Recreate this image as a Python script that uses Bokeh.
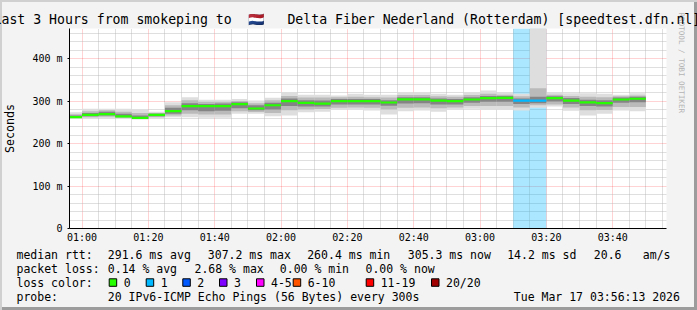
import math
from bokeh.plotting import figure
from bokeh.layouts import column
from bokeh.models import Range1d, FixedTicker, Title, ColumnDataSource
from bokeh.core.properties import value
from bokeh.embed import file_html
from bokeh.resources import INLINE

# ---------------- data ----------------
# interval starts (minutes after midnight), 5-minute steps from 00:55 to 03:45
start_min = list(range(55, 230, 5))
median_ms = [262, 267.5, 269, 264, 260.4, 267.5, 276, 287.8, 287.8, 287.8,
             292.5, 282.4, 290, 299.6, 295.7, 294, 299.6, 299.6, 299.6, 296.5,
             304, 304, 301, 299.6, 303.5, 306.6, 307.2, 301, 301, 306.6,
             301, 297, 295, 303.5, 305.3]
smoke_lo = [259.5, 259.5, 259.5, 259.5, 256.5, 260.4, 262, 262, 260.4, 260.4,
            270, 270, 264, 266, 273.6, 275, 279, 279, 277.6, 268,
            276, 277.6, 275, 279, 281.6, 279, 279, 277.6, 284, 287,
            277, 266, 270, 277.6, 276]
smoke_hi = [273.6, 282, 282, 282, 279, 275, 297, 309, 303, 303,
            305, 301, 307.5, 320.8, 315, 315, 313, 317, 315, 315,
            320.8, 320.8, 317, 315, 320.8, 324.7, 320.8, 317, 480, 320.8,
            318.4, 318.4, 317, 315, 318.4]
mid_lo = [260.5, 262, 263, 261, 258, 262, 266, 270, 268, 268,
          276, 274, 272, 278, 280, 281, 284, 285, 284, 280,
          284, 285, 283, 285, 288, 288, 288, 285, 290, 292,
          285, 278, 279, 286, 286]
mid_hi = [269, 276, 278, 275, 272, 272, 290, 302, 298, 298,
          300, 295, 302, 312, 308, 308, 309, 310, 309, 308,
          314, 314, 311, 310, 314, 317, 315, 311, 330, 315,
          312, 310, 309, 311, 313]
in_lo = [261, 264, 266, 262, 259, 264, 270, 278, 276, 277,
         283, 278, 280, 288, 287, 287, 292, 292, 292, 289,
         294, 295, 292, 292, 296, 298, 298, 293, 295, 299,
         293, 288, 287, 296, 297]
in_hi = [266, 272, 275, 270, 266, 270, 284, 295, 293, 294,
         297, 290, 296, 306, 302, 301, 305, 305, 305, 302,
         309, 309, 306, 305, 309, 312, 312, 306, 310, 311,
         307, 303, 302, 308, 310]
loss_count = [0] * 27 + [1, 1] + [0] * 6

loss_labels = ["0", "1", "2", "3", "4-5", "6-10", "11-19", "20/20"]
loss_colors = ["#26ff00", "#00b8ff", "#0059ff", "#7e00ff", "#ff00ff",
               "#ff5500", "#ff0000", "#a00000"]

x_ticks = [60, 80, 100, 120, 140, 160, 180, 200, 220]
x_tick_labels = ["01:00", "01:20", "01:40", "02:00", "02:20", "02:40",
                 "03:00", "03:20", "03:40"]
y_ticks = [0, 100, 200, 300, 400]
y_tick_labels = ["0", "100 m", "200 m", "300 m", "400 m"]

title_text = ("Last 3 Hours from smokeping to \u00a0\U0001F1F3\U0001F1F1\u00a0\u00a0 "
              "Delta Fiber Nederland (Rotterdam) [speedtest.dfn.nl]")
rtt_head = "median rtt:"
stats_rtt = ["291.6 ms avg", "307.2 ms max", "260.4 ms min", "305.3 ms now",
             "14.2 ms sd", "20.6", "am/s"]
loss_head = "packet loss:"
stats_loss = ["0.14 % avg", "2.68 % max", "0.00 % min", "0.00 % now"]
color_head = "loss color:"
probe_head = "probe:"
probe_text = "20 IPv6-ICMP Echo Pings (56 Bytes) every 300s"
stamp_text = "Tue Mar 17 03:56:13 2026"

# ---------------- layout constants ----------------
W = 697
L, R, T, B = 67, 30, 28, 18
FRAME_H = 200
MAIN_H = T + FRAME_H + B          # 246
LEG_H = 310 - MAIN_H              # 64
t_end = 236.2167
t_start = t_end - 180
y_max = 200 / 0.425
MONO = "DejaVu Sans Mono"
BG = "#f3f3f3"

# ---------------- main chart ----------------
p = figure(width=W, height=MAIN_H, output_backend="svg", toolbar_location=None,
           x_range=Range1d(t_start, t_end), y_range=Range1d(0, y_max),
           min_border_left=L, min_border_right=R, min_border_top=T,
           min_border_bottom=B)
p.frame_align = False
p.background_fill_color = "#ffffff"
p.border_fill_color = BG
p.border_fill_alpha = 0.0
p.outline_line_color = None

p.title.text = title_text
p.title.text_font = MONO
p.title.text_font_size = "13.2px"
p.title.text_font_style = "normal"
p.title.align = "left"
p.title.offset = -76
p.title.standoff = 4
p.title.text_color = "#000000"

end_min = [s + 5 for s in start_min]
src = ColumnDataSource(dict(
    left=start_min, right=end_min, med=median_ms,
    slo=smoke_lo, shi=smoke_hi, mlo=mid_lo, mhi=mid_hi, ilo=in_lo, ihi=in_hi,
    color=[loss_colors[c] for c in loss_count],
))

# loss background bands
lb_left = [s for s, c in zip(start_min, loss_count) if c > 0]
lb_color = [loss_colors[c] for c in loss_count if c > 0]
p.quad(left=lb_left, right=[v + 5 for v in lb_left], bottom=0, top=y_max,
       fill_color=lb_color, fill_alpha=0.33, line_color=None)

# smoke
p.quad(left="left", right="right", bottom="slo", top="shi", source=src,
       fill_color="#dedede", line_color=None)
p.quad(left="left", right="right", bottom="mlo", top="mhi", source=src,
       fill_color="#bababa", line_color=None)
p.quad(left="left", right="right", bottom="ilo", top="ihi", source=src,
       fill_color="#848484", line_color=None)

# median
p.segment(x0="left", x1="right", y0="med", y1="med", source=src,
          line_color="color", line_width=2.2)

# axes / grid
xa = p.xaxis[0]
xa.ticker = FixedTicker(ticks=x_ticks,
                        minor_ticks=[m for m in range(60, 240, 5) if m not in x_ticks])
xa.major_label_overrides = {t: l for t, l in zip(x_ticks, x_tick_labels)}
ya = p.yaxis[0]
ya.ticker = FixedTicker(ticks=y_ticks,
                        minor_ticks=[v for v in range(20, 480, 20) if v % 100])
ya.major_label_overrides = {t: l for t, l in zip(y_ticks, y_tick_labels)}
for ax in (xa, ya):
    ax.axis_line_color = "#000000"
    ax.axis_line_width = 1
    ax.major_tick_in = 0
    ax.minor_tick_out = 0
    ax.minor_tick_in = 0
    ax.major_tick_line_color = "#000000"
    ax.major_label_text_font = MONO
    ax.major_label_text_font_size = "10px"
    ax.major_label_text_color = "#000000"
xa.major_tick_out = 0
xa.major_label_standoff = 3
ya.major_tick_out = 2
ya.major_label_standoff = 5
ya.axis_label = "Seconds"
ya.axis_label_text_font = MONO
ya.axis_label_text_font_size = "11.7px"
ya.axis_label_text_font_style = "normal"
ya.axis_label_text_color = "#000000"
ya.axis_label_standoff = 12

for g in (p.xgrid[0], p.ygrid[0]):
    g.grid_line_color = "#ff0000"
    g.grid_line_alpha = 0.35
    g.grid_line_dash = "1 1"
    g.minor_grid_line_color = "#b8b8b8"
    g.minor_grid_line_dash = "1 1"
    g.minor_grid_line_alpha = 0.9
p.xgrid[0].ticker = xa.ticker
p.ygrid[0].ticker = ya.ticker

# rrdtool credit on the right
credit = Title(text="RRDTOOL / TOBI OETIKER", align="left", offset=-16,
               standoff=20, text_font=MONO, text_font_size="7.6px",
               text_font_style="normal", text_color="#b4b4b4")
p.add_layout(credit, "right")

# ---------------- legend area ----------------
q = figure(width=W, height=LEG_H, output_backend="svg", toolbar_location=None,
           x_range=Range1d(0, W), y_range=Range1d(LEG_H, 0),
           min_border=0, x_axis_type=None, y_axis_type=None)
q.frame_align = False
q.background_fill_color = BG
q.background_fill_alpha = 0.0
q.border_fill_alpha = 0.0
q.outline_line_color = None
q.xgrid.visible = False
q.ygrid.visible = False

rows = [254.3 - MAIN_H, 268.3 - MAIN_H, 282.3 - MAIN_H, 296.3 - MAIN_H]
tx, ty, tt = [], [], []
def put(x, y, t):
    tx.append(x); ty.append(y); tt.append(t)

put(16, rows[0], rtt_head)
for xx, t in zip([107.3, 207.3, 306.7, 407.3, 506.7, 593.3, 642.3], stats_rtt):
    put(xx, rows[0], t)
put(16, rows[1], loss_head)
for xx, t in zip([107.3, 194, 279.3, 365], stats_loss):
    put(xx, rows[1], t)
put(16, rows[2], color_head)
sw_x = [108.7, 145.7, 182.3, 219, 256, 292.7, 365.7, 431]
for xx, t in zip(sw_x, loss_labels):
    put(xx + 14.5, rows[2], t)
put(16, rows[3], probe_head)
put(107.3, rows[3], probe_text)
put(513.3, rows[3], stamp_text)

q.text(x=tx, y=ty, text=tt, text_font=value(MONO), text_font_size="11.5px",
       text_baseline="middle", text_align="left", text_color="#000000")
q.quad(left=sw_x, right=[v + 7.5 for v in sw_x],
       top=[rows[2] - 4] * len(sw_x), bottom=[rows[2] + 3.5] * len(sw_x),
       fill_color=loss_colors, line_color="#000000", line_width=1)

layout = column(p, q, spacing=0)
layout.styles = {
    "background-color": BG,
    "box-shadow": "inset 2px 2px 0 #d0d0d0, inset -3px -3px 0 #9c9c9c",
}

open("out.html", "w").write(file_html(layout, INLINE))
